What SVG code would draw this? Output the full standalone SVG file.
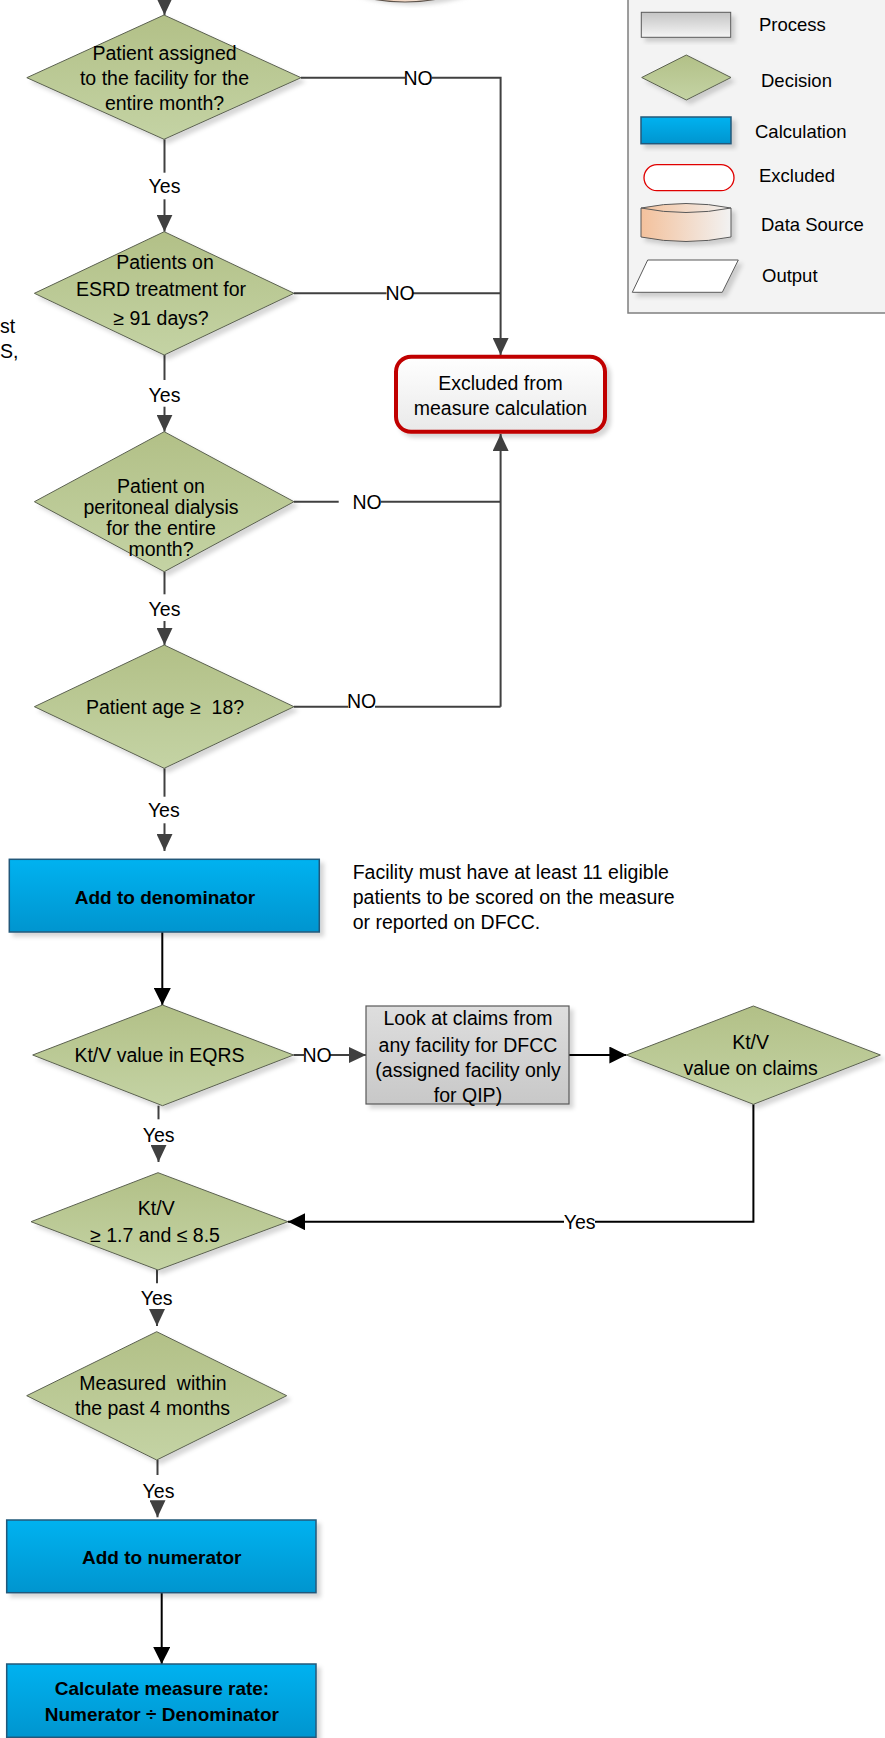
<svg xmlns="http://www.w3.org/2000/svg" width="885" height="1738" viewBox="0 0 885 1738">
<style>
text{font-family:"Liberation Sans",Arial,sans-serif;font-size:19.5px;fill:#000}
.c{text-anchor:middle}
.b{font-weight:bold;font-size:19px}
.lg{font-size:18.5px}
.dia{fill:url(#green);stroke:#5b6150;stroke-width:1}
.calc{fill:url(#blue);stroke:#24587a;stroke-width:1.5}
.g{fill:none;stroke:#404040;stroke-width:2}
.k{fill:none;stroke:#000;stroke-width:2}
.ga{marker-end:url(#ag)}
.ka{marker-end:url(#ak)}
.sh{filter:url(#shadow)}
</style>
<defs>
<linearGradient id="green" x1="0" y1="0" x2="0" y2="1"><stop offset="0" stop-color="#b2c087"/><stop offset="1" stop-color="#c4d3a4"/></linearGradient>
<linearGradient id="blue" x1="0" y1="0" x2="0" y2="1"><stop offset="0" stop-color="#00b2f0"/><stop offset="1" stop-color="#0095cf"/></linearGradient>
<linearGradient id="gray" x1="0" y1="0" x2="0" y2="1"><stop offset="0" stop-color="#dedede"/><stop offset="1" stop-color="#c8c8c8"/></linearGradient>
<linearGradient id="lgray" x1="0" y1="0" x2="0" y2="1"><stop offset="0" stop-color="#c4c4c4"/><stop offset="1" stop-color="#f5f5f5"/></linearGradient>
<linearGradient id="excl" x1="0" y1="0" x2="0" y2="1"><stop offset="0" stop-color="#ffffff"/><stop offset="1" stop-color="#e9e9e9"/></linearGradient>
<linearGradient id="peach" x1="0" y1="0" x2="1" y2="0"><stop offset="0" stop-color="#f3c19c"/><stop offset="1" stop-color="#f2f2f2"/></linearGradient>
<filter id="shadow" x="-10%" y="-10%" width="130%" height="140%"><feDropShadow dx="4" dy="4" stdDeviation="2" flood-color="#000" flood-opacity="0.16"/></filter>
<filter id="blur"><feGaussianBlur stdDeviation="2"/></filter>
<marker id="ag" viewBox="0 0 17 16" markerWidth="17" markerHeight="16" refX="17" refY="8" orient="auto" markerUnits="userSpaceOnUse"><path d="M0,0 L17,8 L0,16 z" fill="#404040"/></marker>
<marker id="ak" viewBox="0 0 17 17" markerWidth="17" markerHeight="17" refX="17" refY="8.5" orient="auto" markerUnits="userSpaceOnUse"><path d="M0,0 L17,8.5 L0,17 z" fill="#000"/></marker>
</defs>
<rect width="885" height="1738" fill="#fff"/>

<!-- partial data source at top -->
<g id="datasource-top">
<path d="M347,-20 L480,-20 L480,-8 Q413,18 347,-8 Z" fill="#d4d4d4" filter="url(#blur)"/>
<path d="M340,-20 L470,-20 L470,-10 Q405,14 340,-10 Z" fill="url(#peach)" stroke="#5e544c" stroke-width="1.2"/>
</g>

<!-- left cut-off text -->
<g id="side-note">
<text x="0" y="333">st</text>
<text x="0" y="358">S,</text>
</g>

<!-- legend -->
<g id="legend">
<rect x="628" y="-10" width="270" height="323" fill="#f3f3f3" stroke="#7f7f7f" stroke-width="1.5"/>
<rect x="641.3" y="12.3" width="89.4" height="25" fill="url(#lgray)" stroke="#595959" stroke-width="1" class="sh"/>
<text class="lg" x="759" y="31">Process</text>
<polygon points="686.3,55 731,77.5 686.3,100 641.7,77.5" class="dia sh"/>
<text class="lg" x="761" y="87">Decision</text>
<rect x="641" y="117" width="90" height="26.7" class="calc sh"/>
<text class="lg" x="755" y="138">Calculation</text>
<rect x="644" y="164.7" width="90" height="26" rx="13" fill="#fff" stroke="#e00000" stroke-width="1.3"/>
<text class="lg" x="759" y="182">Excluded</text>
<path d="M641,208 Q686,199 731,208 L731,237 Q686,246 641,237 Z" fill="url(#peach)" stroke="#595959" stroke-width="1" class="sh"/>
<path d="M641,208 Q686,217 731,208" fill="none" stroke="#595959" stroke-width="1"/>
<text class="lg" x="761" y="231">Data Source</text>
<polygon points="647.7,260 738.3,260 722.3,292.3 632.3,292.3" fill="#fff" stroke="#595959" stroke-width="1" class="sh"/>
<text class="lg" x="762" y="282">Output</text>
</g>

<!-- connectors -->
<g id="connectors">
<path class="g ga" d="M164.5,-5 V15"/>
<path class="g" d="M164.5,139.3 V172.7"/>
<path class="g ga" d="M164.5,199.3 V231.7"/>
<path class="g" d="M301,77.7 H405"/>
<path class="g ga" d="M431.7,77.7 H500.6 V355"/>
<path class="g" d="M294,293.3 H386.5"/>
<path class="g" d="M413,293.3 H500.6"/>
<path class="g" d="M164.5,355 V380"/>
<path class="g ga" d="M164.5,406.7 V431.7"/>
<path class="g" d="M294,501.7 H338.7"/>
<path class="g" d="M381,501.7 H500.6"/>
<path class="g ga" d="M500.6,706.7 V434"/>
<path class="g" d="M164.5,571.7 V594.3"/>
<path class="g ga" d="M164.5,621 V645"/>
<path class="g" d="M294,706.7 H348"/>
<path class="g" d="M375,706.7 H500.6"/>
<path class="g" d="M164.5,768.3 V796.7"/>
<path class="g ga" d="M164.5,823.3 V851"/>
<path class="k ka" d="M162.3,932 V1005"/>
<path class="g" d="M293.5,1055 H304"/>
<path class="g ga" d="M330,1055 H366"/>
<path class="k ka" d="M569,1055 H626.4"/>
<path class="k" d="M753.4,1104.3 V1221.7 H595"/>
<path class="k ka" d="M564,1221.7 H288"/>
<path class="g" d="M158.5,1105.7 V1119.3"/>
<path class="g ga" d="M158.5,1146 V1162"/>
<path class="g" d="M157,1270 V1283.3"/>
<path class="g ga" d="M157,1309 V1326"/>
<path class="g" d="M157.5,1460 V1475"/>
<path class="g ga" d="M157.5,1501 V1517.3"/>
<path class="k ka" d="M161.7,1593 V1664"/>
<g id="edge-labels">
<text class="c" x="164.5" y="192.7">Yes</text>
<text class="c" x="418" y="84.7">NO</text>
<text class="c" x="400" y="300.3">NO</text>
<text class="c" x="164.5" y="402">Yes</text>
<text class="c" x="367" y="508.7">NO</text>
<text class="c" x="164.5" y="616">Yes</text>
<text class="c" x="361.6" y="707.7">NO</text>
<text class="c" x="163.8" y="817">Yes</text>
<text class="c" x="317" y="1062">NO</text>
<text class="c" x="158.6" y="1142">Yes</text>
<text class="c" x="579.6" y="1228.7">Yes</text>
<text class="c" x="156.7" y="1305.3">Yes</text>
<text class="c" x="158.5" y="1497.7">Yes</text>
</g>
</g>

<!-- nodes -->
<g id="d1">
<polygon points="164,15 301,77.7 164,139.3 26.8,77.7" class="dia sh"/>
<text class="c" x="164.5" y="60.3">Patient assigned</text>
<text class="c" x="164.5" y="84.7">to the facility for the</text>
<text class="c" x="164.5" y="110.3">entire month?</text>
</g>
<g id="d2">
<polygon points="164.2,231.7 294,293.3 164.2,355 34.4,293.3" class="dia sh"/>
<text class="c" x="165" y="268.7">Patients on</text>
<text class="c" x="161" y="296.3">ESRD treatment for</text>
<text class="c" x="161" y="325.3">≥ 91 days?</text>
</g>
<g id="excluded">
<rect x="396" y="356.7" width="209" height="75" rx="15" fill="url(#excl)" stroke="#c00000" stroke-width="4" class="sh"/>
<text class="c" x="500.5" y="390.3">Excluded from</text>
<text class="c" x="500.5" y="415.3">measure calculation</text>
</g>
<g id="d3">
<polygon points="164.2,431.7 294,501.7 164.2,571.7 34.4,501.7" class="dia sh"/>
<text class="c" x="161" y="493">Patient on</text>
<text class="c" x="161" y="513.7">peritoneal dialysis</text>
<text class="c" x="161" y="535.3">for the entire</text>
<text class="c" x="161" y="556.3">month?</text>
</g>
<g id="d4">
<polygon points="164.2,645 294,706.7 164.2,768.3 34.4,706.7" class="dia sh"/>
<text class="c" x="165" y="713.7" xml:space="preserve">Patient age ≥  18?</text>
</g>
<g id="denominator">
<rect x="9.3" y="859.3" width="310" height="72.7" class="calc sh"/>
<text class="c b" x="165" y="903.7">Add to denominator</text>
</g>
<g id="note">
<text x="352.7" y="879">Facility must have at least 11 eligible</text>
<text x="352.7" y="904">patients to be scored on the measure</text>
<text x="352.7" y="929">or reported on DFCC.</text>
</g>
<g id="d5">
<polygon points="162.5,1005 293.5,1055 162.5,1105.7 32.7,1055" class="dia sh"/>
<text class="c" x="159.5" y="1062">Kt/V value in EQRS</text>
</g>
<g id="claims">
<rect x="366" y="1006" width="203" height="98" fill="url(#gray)" stroke="#595959" stroke-width="1.2" class="sh"/>
<text class="c" x="468" y="1025.3">Look at claims from</text>
<text class="c" x="468" y="1052">any facility for DFCC</text>
<text class="c" x="468" y="1077">(assigned facility only</text>
<text class="c" x="468" y="1102">for QIP)</text>
</g>
<g id="d6">
<polygon points="753.4,1006 880.4,1055 753.4,1104.3 626.4,1055" class="dia sh"/>
<text class="c" x="750.6" y="1048.7">Kt/V</text>
<text class="c" x="750.6" y="1075.3">value on claims</text>
</g>
<g id="d7">
<polygon points="158,1172.7 288,1221.7 158,1270 31,1221.7" class="dia sh"/>
<text class="c" x="156.3" y="1215.3">Kt/V</text>
<text class="c" x="155" y="1242">≥ 1.7 and ≤ 8.5</text>
</g>
<g id="d8">
<polygon points="156.7,1331.7 286.7,1395.7 156.7,1460 26.7,1395.7" class="dia sh"/>
<text class="c" x="153" y="1389.7" xml:space="preserve">Measured  within</text>
<text class="c" x="152.5" y="1415.3">the past 4 months</text>
</g>
<g id="numerator">
<rect x="6.7" y="1520" width="309.3" height="72.7" class="calc sh"/>
<text class="c b" x="161.7" y="1564.3">Add to numerator</text>
</g>
<g id="rate">
<rect x="6.7" y="1664" width="309.3" height="73.3" class="calc sh"/>
<text class="c b" x="162" y="1695.3">Calculate measure rate:</text>
<text class="c b" x="161.8" y="1721.3">Numerator ÷ Denominator</text>
</g>
</svg>
